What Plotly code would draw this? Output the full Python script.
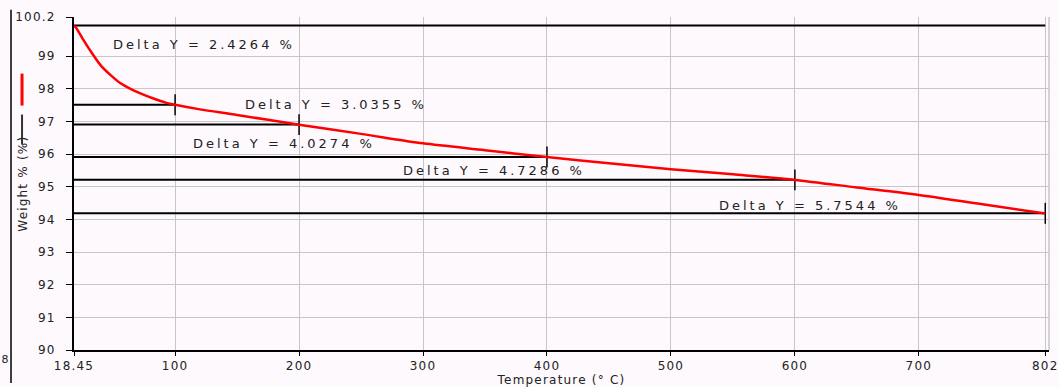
import plotly.graph_objects as go

# ---- data ----
temperature = [18.45, 20, 26, 33, 40, 48, 56, 64, 72, 82, 93, 100, 120, 150, 200,
               250, 300, 350, 400, 450, 500, 550, 600, 650, 700, 750, 802]
weight = [99.94, 99.88, 99.50, 99.09, 98.72, 98.42, 98.17, 98.00, 97.86, 97.71,
          97.57, 97.51, 97.37, 97.20, 96.90, 96.62, 96.33, 96.12, 95.91, 95.72,
          95.54, 95.38, 95.21, 94.98, 94.75, 94.47, 94.18]

delta_temps = [100, 200, 400, 600, 802]
delta_values = [2.4264, 3.0355, 4.0274, 4.7286, 5.7544]

label_temps = [123, 230, 188, 357, 612]
label_weights = [99.37, 97.53, 96.33, 95.50, 94.43]

x_tickvals = [18.45, 100, 200, 300, 400, 500, 600, 700, 802]
x_ticktext = ["18.45", "100", "200", "300", "400", "500", "600", "700", "802"]
y_tickvals = [90, 91, 92, 93, 94, 95, 96, 97, 98, 99, 100.2]
y_ticktext = ["90", "91", "92", "93", "94", "95", "96", "97", "98", "99", "100.2"]

FONT = "DejaVu Sans"
BG = "#fdf9fd"
GRID = "#c9c6c9"
TXT = "#222222"

start_temp = temperature[0]
initial_weight = weight[0]
tick_half = 0.32

fig = go.Figure()

# reference line at the initial weight
fig.add_trace(go.Scatter(x=[start_temp, temperature[-1]], y=[initial_weight, initial_weight],
                         mode="lines", line=dict(color="black", width=2),
                         hoverinfo="skip", showlegend=False))

# delta lines with end ticks
for t, d in zip(delta_temps, delta_values):
    level = initial_weight - d
    fig.add_trace(go.Scatter(x=[start_temp, t], y=[level, level], mode="lines",
                             line=dict(color="black", width=2),
                             hoverinfo="skip", showlegend=False))
    fig.add_trace(go.Scatter(x=[t, t], y=[level - tick_half, level + tick_half], mode="lines",
                             line=dict(color="black", width=1.5),
                             hoverinfo="skip", showlegend=False))

# weight curve
fig.add_trace(go.Scatter(x=temperature, y=weight, mode="lines",
                         line=dict(color="#ff0000", width=2.5, shape="spline", smoothing=0.8),
                         showlegend=False))

annotations = []
for tx, wy, d in zip(label_temps, label_weights, delta_values):
    annotations.append(dict(x=tx, y=wy, xref="x", yref="y", text=f"Delta Y = {d:.4f} %",
                            showarrow=False, font=dict(family=FONT, size=13, color=TXT),
                            xanchor="center", yanchor="middle"))

# y-axis title placed like the reference
annotations.append(dict(x=-0.0533, y=0.50, xref="paper", yref="paper", text="Weight % (%)",
                        showarrow=False, textangle=-90,
                        font=dict(family=FONT, size=12, color=TXT),
                        xanchor="center", yanchor="middle"))
annotations.append(dict(x=-0.0656, y=-0.030, xref="paper", yref="paper", text="8",
                        showarrow=False, font=dict(family=FONT, size=11, color=TXT),
                        xanchor="right", yanchor="middle", borderpad=0))

shapes = [
    # legend-like markers in the left margin
    dict(type="line", xref="paper", yref="paper", x0=-0.0533, x1=-0.0533, y0=0.734, y1=0.830,
         line=dict(color="#ff0000", width=3)),
    dict(type="line", xref="paper", yref="paper", x0=-0.0533, x1=-0.0533, y0=0.617, y1=0.707,
         line=dict(color="#333333", width=2)),
    # left border line
    dict(type="line", xref="paper", yref="paper", x0=-0.0646, x1=-0.0646, y0=-0.099, y1=1.022,
         line=dict(color="black", width=1.5)),
    # right frame edge
    dict(type="line", xref="paper", yref="paper", x0=1, x1=1, y0=0, y1=1,
         line=dict(color=GRID, width=1.5)),
]

fig.update_layout(
    width=1059, height=387,
    margin=dict(l=74, r=10, t=17, b=37),
    paper_bgcolor=BG, plot_bgcolor=BG,
    font=dict(family=FONT, size=12, color=TXT),
    annotations=annotations, shapes=shapes,
    showlegend=False,
)

fig.update_xaxes(range=[18.45, 805], tickvals=x_tickvals, ticktext=x_ticktext,
                 showgrid=True, gridcolor=GRID, gridwidth=1,
                 showline=True, linecolor="black", linewidth=2,
                 ticks="outside", ticklen=4, tickcolor="black", tickwidth=1,
                 zeroline=False, tickfont=dict(family=FONT, size=12, color=TXT),
                 automargin=False,
                 title=dict(text="Temperature (° C)", font=dict(family=FONT, size=12, color=TXT),
                            standoff=1))
fig.update_yaxes(range=[90, 100.2], tickvals=y_tickvals, ticktext=y_ticktext,
                 showgrid=True, gridcolor=GRID, gridwidth=1,
                 showline=True, linecolor="black", linewidth=2,
                 ticks="outside", ticklen=6, tickcolor="black", tickwidth=1,
                 ticklabelstandoff=8, automargin=False,
                 zeroline=False, tickfont=dict(family=FONT, size=12, color=TXT))

post = """
document.body.style.margin = '0';
document.body.style.background = '#fdf9fd';
var gd = document.getElementById('{plot_id}');
gd.querySelectorAll('.annotation-text').forEach(function(e){
  if (e.textContent.indexOf('Delta') === 0) { e.style.letterSpacing = '3px'; }
  else { e.style.letterSpacing = '1.2px'; }
});
gd.querySelectorAll('.xtick text, .ytick text, .g-xtitle text').forEach(function(e){
  e.style.letterSpacing = '1.2px';
});
"""

fig.write_html("out.html", post_script=post, config={"displayModeBar": False})
